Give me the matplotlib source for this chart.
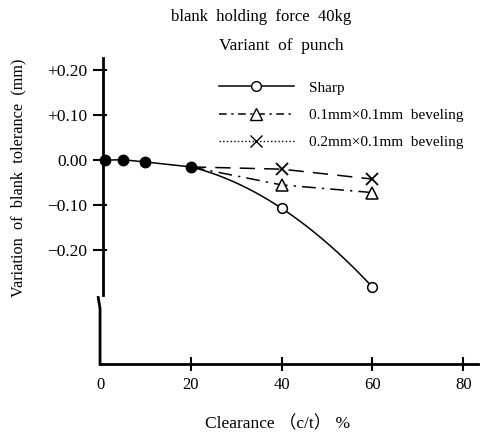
import numpy as np
import matplotlib.pyplot as plt
from matplotlib.lines import Line2D

plt.rcParams['font.family'] = ['Liberation Serif', 'DejaVu Serif']

# measured points shared by all punch variants (filled dots)
clearance = [1, 5, 10, 20, 40, 60]
sharp = [0.000, 0.001, -0.004, -0.015, -0.107, -0.282]
bevel_01 = [0.000, 0.001, -0.004, -0.015, -0.055, -0.072]
bevel_02 = [0.000, 0.001, -0.004, -0.015, -0.020, -0.042]
n_common = 4

xticks = [0, 20, 40, 60, 80]
yticks = [0.20, 0.10, 0.00, -0.10, -0.20]
ytick_labels = ['+0.20', '+0.10', '0.00', '\u22120.10', '\u22120.20']

fig = plt.figure(figsize=(4.88, 4.36), dpi=100)
ax = fig.add_axes([0.205, 0.165, 0.775, 0.702])
ax.set_xlim(0, 83.3)
ax.set_ylim(-0.453, 0.227)

# sharp punch: straight through the early points, smooth bend afterwards
x = np.array(clearance, dtype=float)
y = np.array(sharp)
c = np.polyfit(x[3:], y[3:], 2)
xs = np.linspace(x[3], x[5], 60)
ax.plot(np.r_[x[:3], xs], np.r_[y[:3], np.polyval(c, xs)], color='black', lw=1.1)
ax.plot(x[4:], y[4:], 'o', mfc='white', mec='black', ms=7, mew=1.1)

ax.plot(clearance[3:], bevel_01[3:], color='black', lw=1.1, dashes=(9, 4, 1.5, 4))
ax.plot(clearance[4:], bevel_01[4:], '^', mfc='white', mec='black', ms=8, mew=1.1)

ax.plot(clearance[3:], bevel_02[3:], color='black', lw=1.1, dashes=(10, 6))
ax.plot(clearance[4:], bevel_02[4:], 'x', color='black', ms=8, mew=1.3)

ax.plot(clearance[:n_common], sharp[:n_common], 'o', color='black', ms=7.5)

# axes: broken vertical axis, crossing ticks
for s in ['top', 'right', 'left']:
    ax.spines[s].set_visible(False)
ax.spines['bottom'].set_linewidth(2)
ax.plot([0.6, 0.6], [0.227, -0.285], color='black', lw=2, clip_on=False)
ax.plot([0.6, 0.6], [-0.289, -0.300], color='black', lw=2, clip_on=False)
ax.plot([-0.4, 0, 0], [-0.305, -0.33, -0.453], color='black', lw=2, clip_on=False)

ax.set_xticks(xticks)
ax.set_xticklabels([str(t) for t in xticks], fontsize=12)
ax.set_yticks(yticks)
ax.set_yticklabels(ytick_labels, fontsize=12.5)
ax.tick_params(axis='both', direction='inout', length=10, width=1.5, pad=4)
ax.xaxis.get_major_ticks()[0].tick1line.set_visible(False)

ax.set_xlabel('Clearance \uff08c/t\uff09 %', fontsize=12.5,
              family=['Liberation Serif', 'Noto Sans CJK SC'])
ax.xaxis.set_label_coords(0.47, -0.17)
ax.set_ylabel('Variation  of  blank  tolerance  (mm)', fontsize=11.7)
ax.yaxis.set_label_coords(-0.195, 0.61)

fig.text(0.535, 0.962, 'blank  holding  force  40kg', ha='center', va='center', fontsize=12)
fig.text(0.448, 0.895, 'Variant  of  punch', ha='left', va='center', fontsize=12.5)

handles = [
    Line2D([], [], color='black', lw=1.1, marker='o', mfc='white', ms=7),
    Line2D([], [], color='black', lw=1.1, dashes=(5, 3, 1.5, 3), marker='^', mfc='white', ms=8),
    Line2D([], [], color='black', lw=1.0, ls=':', marker='x', ms=8),
]
labels = ['Sharp', '0.1mm\u00d70.1mm  beveling', '0.2mm\u00d70.1mm  beveling']
fig.legend(handles, labels, loc='upper left', bbox_to_anchor=(0.420, 0.846),
           frameon=False, fontsize=11, handlelength=4.9, labelspacing=0.9,
           handletextpad=1.0)

plt.savefig('out.png', dpi=100)
plt.close()
